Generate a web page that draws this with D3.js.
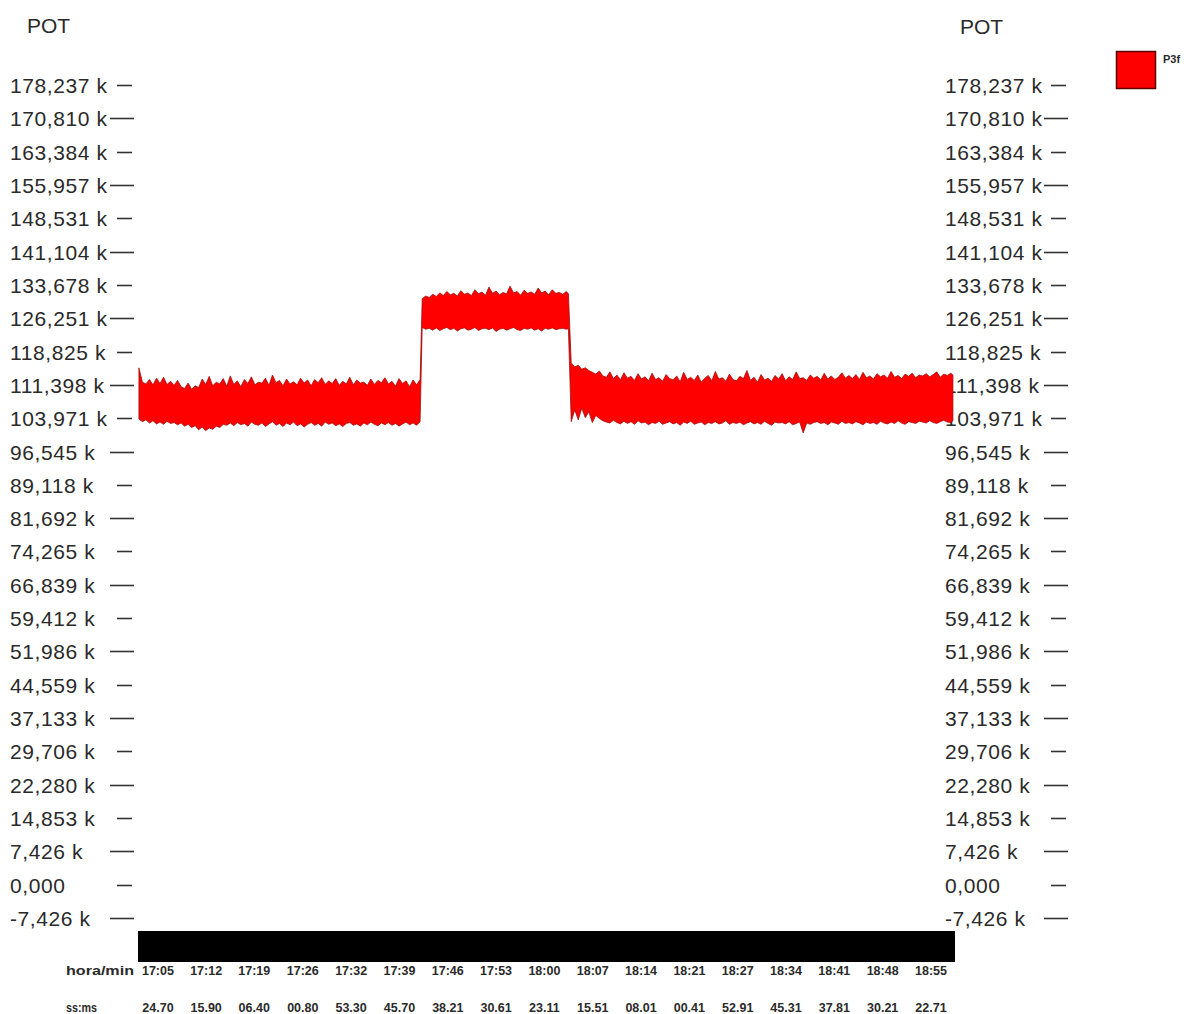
<!DOCTYPE html>
<html>
<head>
<meta charset="utf-8">
<script src="https://cdn.jsdelivr.net/npm/d3@7"></script>
<style>
  html, body { margin: 0; padding: 0; background: #fff; }
  svg { display: block; font-family: "Liberation Sans", Arial, sans-serif; }
</style>
</head>
<body>
<svg id="chart" width="1189" height="1014"></svg>
<script>
// Power (POT) tick values in k and their printed labels
const tickValues = [178.237, 170.810, 163.384, 155.957, 148.531, 141.104, 133.678, 126.251,
  118.825, 111.398, 103.971, 96.545, 89.118, 81.692, 74.265, 66.839, 59.412, 51.986,
  44.559, 37.133, 29.706, 22.280, 14.853, 7.426, 0, -7.426];
const tickLabels = ["178,237 k", "170,810 k", "163,384 k", "155,957 k", "148,531 k", "141,104 k",
  "133,678 k", "126,251 k", "118,825 k", "111,398 k", "103,971 k", "96,545 k", "89,118 k",
  "81,692 k", "74,265 k", "66,839 k", "59,412 k", "51,986 k", "44,559 k", "37,133 k",
  "29,706 k", "22,280 k", "14,853 k", "7,426 k", "0,000", "-7,426 k"];

// Time axis labels (hour:minute and seconds.hundredths)
const hourLabels = ["17:05", "17:12", "17:19", "17:26", "17:32", "17:39", "17:46", "17:53", "18:00",
  "18:07", "18:14", "18:21", "18:27", "18:34", "18:41", "18:48", "18:55"];
const secLabels = ["24.70", "15.90", "06.40", "00.80", "53.30", "45.70", "38.21", "30.61", "23.11",
  "15.51", "08.01", "00.41", "52.91", "45.31", "37.81", "30.21", "22.71"];

// Sample times, minutes after 17:00
const minutes = [
  2.7, 3.2, 3.7, 4.2, 4.7, 5.2, 5.7, 6.2, 6.7, 7.2,
  7.7, 8.2, 8.7, 9.2, 9.7, 10.2, 10.7, 11.2, 11.7, 12.2,
  12.7, 13.2, 13.7, 14.2, 14.7, 15.2, 15.7, 16.2, 16.7, 17.2,
  17.7, 18.2, 18.7, 19.2, 19.7, 20.2, 20.7, 21.2, 21.7, 22.2,
  22.7, 23.2, 23.7, 24.2, 24.7, 25.2, 25.7, 26.2, 26.7, 27.2,
  27.7, 28.2, 28.7, 29.2, 29.7, 30.2, 30.7, 31.2, 31.7, 32.2,
  32.7, 33.2, 33.7, 34.2, 34.7, 35.2, 35.7, 36.2, 36.7, 37.2,
  37.7, 38.2, 38.7, 39.2, 39.7, 40.2, 40.7, 41.2, 41.7, 42.2,
  42.7,
  43.0, 43.5, 44.0, 44.5, 45.0, 45.5, 46.0, 46.5, 47.0, 47.5,
  48.0, 48.5, 49.0, 49.5, 50.0, 50.5, 51.0, 51.5, 52.0, 52.5,
  53.0, 53.5, 54.0, 54.5, 55.0, 55.5, 56.0, 56.5, 57.0, 57.5,
  58.0, 58.5, 59.0, 59.5, 60.0, 60.5, 61.0, 61.5, 62.0, 62.5,
  63.0, 63.5, 63.8,
  64.2, 64.7, 65.2, 65.7, 66.2, 66.7, 67.2, 67.7, 68.2, 68.7,
  69.2, 69.7, 70.2, 70.7, 71.2, 71.7, 72.2, 72.7, 73.2, 73.7,
  74.2, 74.7, 75.2, 75.7, 76.2, 76.7, 77.2, 77.7, 78.2, 78.7,
  79.2, 79.7, 80.2, 80.7, 81.2, 81.7, 82.2, 82.7, 83.2, 83.7,
  84.2, 84.7, 85.2, 85.7, 86.2, 86.7, 87.2, 87.7, 88.2, 88.7,
  89.2, 89.7, 90.2, 90.7, 91.2, 91.7, 92.2, 92.7, 93.2, 93.7,
  94.2, 94.7, 95.2, 95.7, 96.2, 96.7, 97.2, 97.7, 98.2, 98.7,
  99.2, 99.7, 100.2, 100.7, 101.2, 101.7, 102.2, 102.7, 103.2, 103.7,
  104.2, 104.7, 105.2, 105.7, 106.2, 106.7, 107.2, 107.7, 108.2, 108.7,
  109.2, 109.7, 110.2, 110.7, 111.2, 111.7, 112.2, 112.7, 113.2, 113.7,
  114.2, 114.7, 115.2, 115.7, 116.2, 116.7, 117.2, 117.7, 118.2, 118.5
];

// Upper envelope of P3f (k) at each sample time
const peakHigh = [
  115.2, 112.0, 111.6, 112.6, 111.4, 112.9, 111.7, 113.1, 111.5, 112.2,
  111.3, 112.4, 111.0, 110.6, 111.8, 110.4, 111.2, 110.8, 112.7, 111.5,
  113.3, 111.2, 112.0, 111.6, 112.8, 111.1, 113.4, 111.5, 112.3, 111.0,
  112.6, 111.7, 113.2, 111.4, 112.0, 111.8, 112.9, 111.3, 113.6, 111.9,
  112.4, 111.2, 112.7, 111.6, 112.1, 111.4, 112.9, 111.8, 112.5, 111.2,
  112.6, 111.9, 113.0, 111.5, 112.3, 111.7, 112.8, 111.3, 112.2, 111.6,
  113.1, 111.4, 112.5, 111.8, 112.0, 111.3, 112.7, 111.5, 112.4, 111.9,
  113.0, 111.6, 112.2, 111.1, 112.8, 111.7, 112.3, 111.0, 112.5, 111.4,
  112.6,
  130.6, 131.2, 130.9, 131.6, 131.1, 131.9, 131.3, 132.2, 131.5, 131.8,
  131.2, 132.4, 131.6, 131.9, 131.3, 132.6, 131.7, 132.1, 131.4, 133.2,
  131.8, 132.3, 131.5, 132.0, 131.7, 133.4, 131.9, 132.2, 131.4, 132.5,
  131.8, 132.1, 131.6, 133.0, 131.9, 132.3, 131.5, 132.6, 131.8, 132.0,
  131.6, 132.2, 131.7,
  116.3, 115.4, 115.8, 114.9, 115.2, 114.6, 114.2, 113.8, 114.5, 113.4,
  113.1, 114.3, 112.8, 113.6, 112.5, 114.1, 112.9, 113.3, 112.4, 113.9,
  112.7, 113.2, 112.3, 114.0, 112.6, 113.0, 112.2, 113.7, 112.8, 112.5,
  113.4, 112.1, 114.2, 112.6, 113.1, 112.4, 113.6, 112.0, 112.9, 113.5,
  112.3, 114.4, 112.7, 113.0, 112.2, 113.8, 112.6, 112.3, 113.3, 112.8,
  114.6, 112.4, 113.1, 112.0, 113.7, 112.5, 112.9, 112.2, 113.5, 112.7,
  113.9, 112.3, 113.2, 112.6, 114.3, 112.8, 113.0, 112.4, 113.6, 112.9,
  113.3, 112.5, 114.0, 112.7, 113.4, 112.6, 113.1, 114.1, 112.9, 113.5,
  112.8, 113.7, 112.6, 114.2, 113.0, 113.4, 112.7, 113.9, 113.2, 113.6,
  112.9, 114.4, 113.1, 113.5, 112.8, 113.8, 113.3, 114.0, 113.0, 113.6,
  113.4, 113.9, 113.2, 113.7, 114.3, 113.1, 113.8, 113.5, 114.0, 113.6
];

// Lower envelope of P3f (k) at each sample time
const peakLow = [
  103.8, 103.2, 103.6, 102.9, 103.4, 102.7, 103.1, 102.6, 103.3, 102.8,
  103.0, 102.5, 102.9, 102.2, 102.6, 101.9, 102.3, 101.4, 102.0, 101.2,
  101.8, 101.5, 102.2, 101.9, 102.6, 102.4, 102.9, 102.3, 103.0, 102.5,
  102.8, 102.2, 103.1, 102.6, 102.4, 102.9, 102.1, 102.7, 103.2, 102.4,
  102.8, 102.1, 102.9, 102.5, 103.1, 102.3, 102.7, 102.0, 102.6, 103.0,
  102.4, 102.8, 102.2, 103.1, 102.6, 102.9, 102.3, 102.7, 102.1, 102.8,
  103.0, 102.4, 102.7, 102.2, 102.9, 102.5, 103.1, 102.6, 102.3, 102.9,
  102.5, 103.0, 102.4, 102.8, 102.2, 102.7, 103.1, 102.5, 102.9, 102.4,
  103.2,
  124.2, 123.8, 124.0, 123.6, 124.1, 123.5, 123.9, 124.2, 123.7, 124.0,
  123.4, 123.9, 124.1, 123.6, 123.8, 124.2, 123.5, 123.9, 124.0, 123.7,
  124.1, 123.3, 123.8, 124.0, 123.6, 123.9, 124.2, 123.7, 123.5, 124.0,
  123.8, 124.1, 123.6, 123.9, 123.4, 124.0, 123.8, 124.1, 123.7, 123.9,
  124.0, 123.8, 123.9,
  103.2, 105.8, 103.6, 106.2, 104.1, 105.4, 103.0, 104.6, 103.9, 103.4,
  103.1, 102.9, 103.5, 103.0, 102.7, 103.3, 102.8, 103.2, 102.6, 103.4,
  102.9, 103.1, 102.5, 103.0, 102.8, 103.3, 102.6, 102.9, 103.2, 102.7,
  103.0, 102.4, 103.1, 102.8, 103.3, 102.6, 102.9, 103.1, 102.5, 103.0,
  102.8, 103.2, 102.7, 102.9, 103.4, 102.6, 103.0, 102.8, 103.1, 102.5,
  102.9, 103.2, 102.7, 103.0, 102.6, 103.3, 102.8, 102.4, 103.1, 102.9,
  103.0, 102.7, 103.2, 102.5, 102.8, 103.1, 100.7, 102.9, 102.6, 103.0,
  103.2, 102.8, 103.0, 102.5, 103.1, 102.9, 102.6, 103.3, 102.8, 103.0,
  102.7, 103.2, 102.9, 102.5, 103.1, 102.8, 103.0, 102.6, 103.3, 102.9,
  102.7, 103.1, 102.8, 103.4, 102.9, 102.6, 103.2, 103.0, 102.8, 103.3,
  103.1, 102.9, 103.4, 103.0, 102.8, 103.2, 103.5, 103.1, 103.0, 103.4
];

const seriesName = "P3f";
const axisTitle = "POT";

const svg = d3.select("#chart");
const textColor = "#2a2a2a";

// Scales: minutes after 17:00 across the plot, power in k down the page
const x = d3.scaleLinear().domain([2.57, 118.51]).range([138, 953]);
const y = d3.scaleLinear().domain([-7.426, 178.237]).range([918, 85]);

// Axis titles
svg.append("text").attr("x", 27).attr("y", 33).attr("font-size", 21)
  .attr("fill", textColor).text(axisTitle);
svg.append("text").attr("x", 960).attr("y", 34).attr("font-size", 21)
  .attr("fill", textColor).text(axisTitle);

// Power axes on both sides: label then a tick dash, dashes alternate short/long
function drawPowerAxis(labelX, shortDash, longDash) {
  const g = svg.append("g");
  tickValues.forEach((v, i) => {
    const yy = Math.round(y(v)) + 0.5;
    g.append("text").attr("x", labelX).attr("y", yy)
      .attr("dominant-baseline", "central")
      .attr("font-size", 21).attr("letter-spacing", 0.6)
      .attr("fill", textColor).text(tickLabels[i]);
    const d = i % 2 === 0 ? shortDash : longDash;
    g.append("line").attr("x1", d[0]).attr("x2", d[1]).attr("y1", yy).attr("y2", yy)
      .attr("stroke", "#333").attr("stroke-width", 1.6);
  });
}
drawPowerAxis(10, [117, 132], [110, 134]);
drawPowerAxis(945, [1051, 1066], [1044, 1068]);

// Time band under the plot
svg.append("rect").attr("x", 138).attr("y", 931).attr("width", 817).attr("height", 31)
  .attr("fill", "#000");

function labelMinutes(hm, ss) {
  const [h, m] = hm.split(":").map(Number);
  return (h - 17) * 60 + m + parseFloat(ss) / 60;
}

const timeAxis = svg.append("g").attr("font-size", 12.5).attr("font-weight", "bold")
  .attr("fill", textColor);
timeAxis.append("text").attr("x", 66).attr("y", 975)
  .attr("textLength", 68).attr("lengthAdjust", "spacingAndGlyphs").text("hora/min");
timeAxis.append("text").attr("x", 66).attr("y", 1012)
  .attr("textLength", 31).attr("lengthAdjust", "spacingAndGlyphs").text("ss:ms");
hourLabels.forEach((hm, i) => {
  const cx = x(labelMinutes(hm, secLabels[i]));
  timeAxis.append("text").attr("x", cx).attr("y", 975).attr("text-anchor", "middle").text(hm);
  timeAxis.append("text").attr("x", cx).attr("y", 1012).attr("text-anchor", "middle").text(secLabels[i]);
});

// P3f trace: band between the lower and upper envelope
const series = minutes.map((t, i) => ({ t, hi: peakHigh[i], lo: peakLow[i] }));
const band = d3.area()
  .x(d => x(d.t))
  .y0(d => y(d.lo))
  .y1(d => y(d.hi))
  .curve(d3.curveLinear);
svg.append("path").datum(series)
  .attr("d", band)
  .attr("fill", "#ff0000")
  .attr("stroke", "#9a0a0a")
  .attr("stroke-width", 1)
  .attr("stroke-opacity", 0.75)
  .attr("stroke-linejoin", "miter");

// Legend
svg.append("rect").attr("x", 1116.5).attr("y", 51.5).attr("width", 39).attr("height", 37)
  .attr("fill", "#ff0000").attr("stroke", "#5a0000").attr("stroke-width", 1.5);
svg.append("text").attr("x", 1163).attr("y", 63).attr("font-size", 11).attr("font-weight", "bold")
  .attr("fill", textColor).text(seriesName);
</script>
</body>
</html>
